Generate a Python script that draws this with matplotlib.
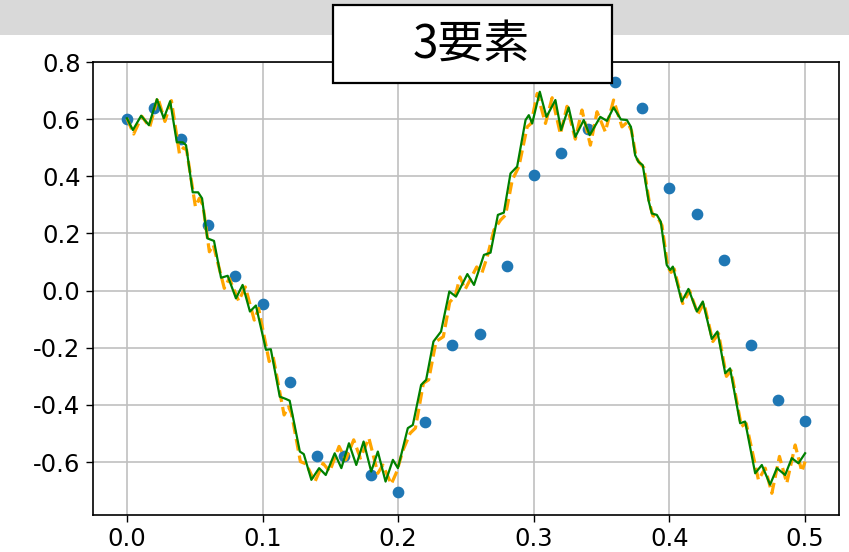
import numpy as np
import matplotlib.pyplot as plt
from matplotlib.patches import Rectangle

plt.rcParams['axes.unicode_minus'] = False

# サンプル点 (0.02刻み)
sample_t = np.arange(26) * 0.02
sample_y = [0.60, 0.64, 0.53, 0.23, 0.05, -0.045, -0.32, -0.58, -0.58, -0.645,
            -0.705, -0.46, -0.19, -0.15, 0.085, 0.405, 0.48, 0.565, 0.73, 0.638,
            0.36, 0.267, 0.107, -0.19, -0.384, -0.456]

# 元の波形 (緑)
green_t = [0.0000, 0.0044, 0.0105, 0.0162, 0.0221, 0.0272, 0.0319, 0.0368, 0.0412, 0.0436,
           0.0485, 0.0525, 0.0554, 0.0593, 0.0642, 0.0694, 0.0743, 0.0804, 0.0853, 0.0907,
           0.0951, 0.1025, 0.1061, 0.1127, 0.1172, 0.1200, 0.1275, 0.1304, 0.1360, 0.1417,
           0.1466, 0.1532, 0.1581, 0.1637, 0.1691, 0.1745, 0.1801, 0.1850, 0.1907, 0.1961,
           0.1998, 0.2071, 0.2108, 0.2169, 0.2206, 0.2260, 0.2316, 0.2377, 0.2426, 0.2510,
           0.2559, 0.2632, 0.2681, 0.2735, 0.2779, 0.2828, 0.2877, 0.2939, 0.2963, 0.2988,
           0.3044, 0.3093, 0.3159, 0.3201, 0.3257, 0.3306, 0.3368, 0.3412, 0.3490, 0.3539,
           0.3588, 0.3642, 0.3686, 0.3716, 0.3747, 0.3771, 0.3803, 0.3845, 0.3870, 0.3907,
           0.3936, 0.3980, 0.4005, 0.4025, 0.4091, 0.4140, 0.4202, 0.4246, 0.4312, 0.4354,
           0.4411, 0.4447, 0.4521, 0.4558, 0.4632, 0.4681, 0.4742, 0.4792, 0.4853, 0.4902,
           0.4951, 0.5000]
green_y = [0.603, 0.562, 0.612, 0.579, 0.670, 0.603, 0.663, 0.519, 0.519, 0.509,
           0.344, 0.344, 0.323, 0.183, 0.174, 0.045, 0.052, -0.027, 0.020, -0.073,
           -0.052, -0.207, -0.205, -0.371, -0.379, -0.385, -0.563, -0.572, -0.662, -0.621,
           -0.645, -0.569, -0.621, -0.534, -0.610, -0.528, -0.633, -0.563, -0.668, -0.592,
           -0.621, -0.481, -0.470, -0.330, -0.312, -0.178, -0.143, -0.003, -0.021, 0.058,
           0.020, 0.125, 0.133, 0.265, 0.273, 0.410, 0.434, 0.597, 0.614, 0.585,
           0.696, 0.608, 0.667, 0.562, 0.641, 0.538, 0.597, 0.544, 0.608, 0.594,
           0.641, 0.599, 0.597, 0.573, 0.474, 0.451, 0.439, 0.317, 0.270, 0.265,
           0.241, 0.090, 0.072, 0.084, -0.038, 0.006, -0.073, -0.038, -0.169, -0.143,
           -0.289, -0.272, -0.464, -0.458, -0.639, -0.610, -0.679, -0.621, -0.645, -0.586,
           -0.604, -0.569]

# 3要素で再構成した波形 (オレンジ破線)
orange_t = [0.0000, 0.0050, 0.0110, 0.0168, 0.0228, 0.0280, 0.0328, 0.0387, 0.0417, 0.0440,
            0.0505, 0.0534, 0.0560, 0.0608, 0.0637, 0.0718, 0.0755, 0.0824, 0.0873, 0.0939,
            0.0971, 0.1049, 0.1078, 0.1159, 0.1191, 0.1213, 0.1279, 0.1323, 0.1385, 0.1446,
            0.1495, 0.1564, 0.1613, 0.1672, 0.1721, 0.1784, 0.1850, 0.1887, 0.1949, 0.1990,
            0.2034, 0.2088, 0.2127, 0.2186, 0.2225, 0.2279, 0.2333, 0.2380, 0.2420, 0.2456,
            0.2493, 0.2579, 0.2616, 0.2657, 0.2706, 0.2755, 0.2792, 0.2841, 0.2890, 0.2951,
            0.2980, 0.3025, 0.3086, 0.3135, 0.3196, 0.3245, 0.3306, 0.3355, 0.3417, 0.3466,
            0.3527, 0.3588, 0.3650, 0.3690, 0.3720, 0.3755, 0.3780, 0.3812, 0.3852, 0.3878,
            0.3915, 0.3945, 0.3988, 0.4012, 0.4035, 0.4098, 0.4148, 0.4210, 0.4254, 0.4320,
            0.4362, 0.4420, 0.4455, 0.4530, 0.4566, 0.4656, 0.4706, 0.4755, 0.4811, 0.4865,
            0.4927, 0.4976, 0.5000]
orange_y = [0.603, 0.548, 0.610, 0.572, 0.676, 0.592, 0.665, 0.480, 0.500, 0.492,
            0.294, 0.323, 0.300, 0.136, 0.160, 0.008, 0.043, -0.036, 0.013, -0.103,
            -0.062, -0.248, -0.231, -0.435, -0.406, -0.429, -0.598, -0.607, -0.670, -0.604,
            -0.633, -0.545, -0.592, -0.522, -0.586, -0.516, -0.639, -0.610, -0.677, -0.633,
            -0.560, -0.499, -0.481, -0.324, -0.312, -0.178, -0.161, -0.040, -0.020, 0.048,
            0.004, 0.083, 0.060, 0.119, 0.212, 0.247, 0.265, 0.387, 0.434, 0.573,
            0.585, 0.690, 0.585, 0.675, 0.548, 0.645, 0.530, 0.632, 0.509, 0.626,
            0.556, 0.667, 0.573, 0.590, 0.560, 0.465, 0.447, 0.430, 0.307, 0.262,
            0.255, 0.228, 0.082, 0.064, 0.076, -0.045, 0.000, -0.082, -0.043, -0.178,
            -0.150, -0.300, -0.280, -0.475, -0.465, -0.662, -0.621, -0.709, -0.580, -0.674,
            -0.540, -0.633, -0.598]

title = '3要素'

fig = plt.figure(figsize=(8.49, 5.52), dpi=100)
W, H = 849, 552

# 上部のグレー帯
fig.patches.append(Rectangle((0, 1 - 35 / H), 1, 35 / H, transform=fig.transFigure,
                             facecolor='#d9d9d9', edgecolor='none', zorder=-1))

ax = fig.add_axes([93 / W, 1 - 515 / H, (839 - 93) / W, (515 - 62) / H])
ax.scatter(sample_t, sample_y, s=55, color='#1f77b4', zorder=2)
ax.plot(orange_t, orange_y, '--', color='orange', lw=2.3, zorder=3,
        dash_joinstyle='round')
ax.plot(green_t, green_y, '-', color='green', lw=1.6, zorder=4,
        solid_joinstyle='round')

ax.set_xlim(-0.025, 0.525)
ax.set_ylim(-0.785, 0.80)
ax.set_xticks([0.0, 0.1, 0.2, 0.3, 0.4, 0.5])
ax.set_yticks([-0.6, -0.4, -0.2, 0.0, 0.2, 0.4, 0.6, 0.8])
ax.grid(True, color='#c0c0c0', lw=1.2)
ax.set_axisbelow(True)
ax.tick_params(labelsize=17.5, length=5, width=1.0, pad=4)
for sp in ax.spines.values():
    sp.set_linewidth(1.2)

# タイトルボックス
fig.patches.append(Rectangle((333 / W, 1 - 83 / H), (612 - 333) / W, (83 - 5) / H,
                             transform=fig.transFigure, facecolor='white',
                             edgecolor='black', lw=1.6, zorder=5))
fig.text(471 / W, 1 - 45 / H, title, ha='center', va='center', fontsize=33,
         family=['Noto Sans CJK JP', 'DejaVu Sans'], zorder=6)

fig.savefig('out.png', dpi=100)
